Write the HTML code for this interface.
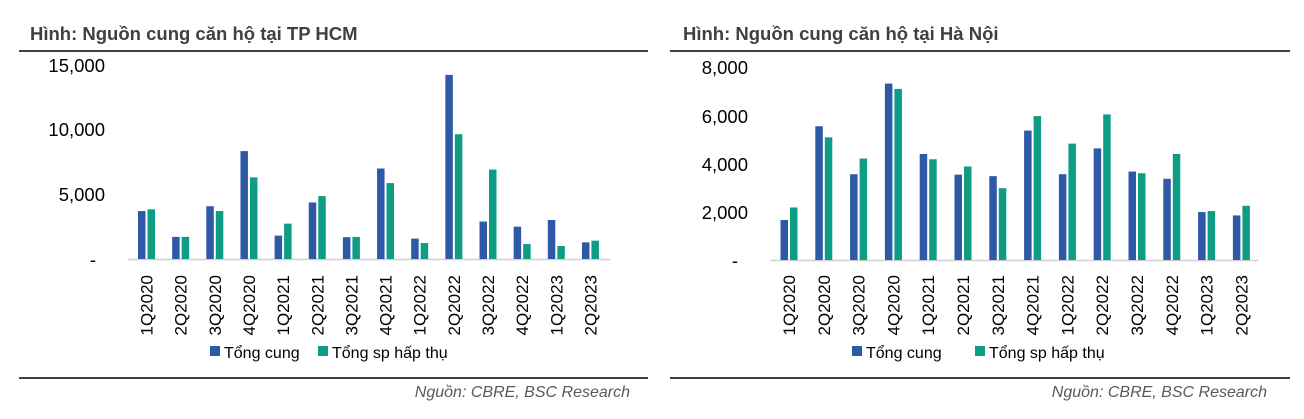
<!DOCTYPE html>
<html><head><meta charset="utf-8"><style>
html,body{margin:0;padding:0;background:#fff;}
svg{display:block;font-family:"Liberation Sans",sans-serif;}
</style></head><body>
<svg width="1304" height="419" viewBox="0 0 1304 419" xmlns="http://www.w3.org/2000/svg">
<g font-weight="bold" font-size="18.5" fill="#404040">
<text x="30" y="40">Hình: Nguồn cung căn hộ tại TP HCM</text>
<text x="683" y="40">Hình: Nguồn cung căn hộ tại Hà Nội</text>
</g>
<g stroke="#000" stroke-width="1.6">
<line x1="19" y1="51" x2="648" y2="51"/><line x1="670" y1="51" x2="1290" y2="51"/>
<line x1="19" y1="378" x2="648" y2="378"/><line x1="670" y1="378" x2="1290" y2="378"/>
</g>
<g font-size="18.5" fill="#000" text-anchor="end">
<text x="105" y="72">15,000</text><text x="105" y="136">10,000</text><text x="105" y="201">5,000</text><text x="96" y="266">-</text>
<text x="748" y="74">8,000</text><text x="748" y="123">6,000</text><text x="748" y="171">4,000</text><text x="748" y="219">2,000</text><text x="738" y="267">-</text>
</g>
<line x1="128" y1="259.5" x2="610" y2="259.5" stroke="#d0d0d0" stroke-width="1.5"/>
<line x1="770" y1="260.5" x2="1258" y2="260.5" stroke="#d0d0d0" stroke-width="1.5"/>
<g id="bars"></g>
<g font-size="17" fill="#000" id="xl"></g>
<g font-size="16" fill="#000">
<rect x="210" y="346" width="10" height="10" fill="#2e59a7"/><text x="224" y="358">Tổng cung</text>
<rect x="318" y="346" width="10" height="10" fill="#0f9c85"/><text x="332" y="358">Tổng sp hấp thụ</text>
<rect x="852" y="346" width="10" height="10" fill="#2e59a7"/><text x="866" y="358">Tổng cung</text>
<rect x="975" y="346" width="10" height="10" fill="#0f9c85"/><text x="989" y="358">Tổng sp hấp thụ</text>
</g>
<g font-size="16" font-style="italic" fill="#595959" text-anchor="end">
<text x="630" y="397">Nguồn: CBRE, BSC Research</text>
<text x="1267" y="397">Nguồn: CBRE, BSC Research</text>
</g>
</svg>
<script>
var ns="http://www.w3.org/2000/svg";
var cats=["1Q2020","2Q2020","3Q2020","4Q2020","1Q2021","2Q2021","3Q2021","4Q2021","1Q2022","2Q2022","3Q2022","4Q2022","1Q2023","2Q2023"];
var hcmB=[3.69,1.7,4.06,8.3,1.8,4.35,1.68,6.96,1.57,14.16,2.88,2.49,3.0,1.28];
var hcmG=[3.82,1.7,3.69,6.28,2.72,4.84,1.7,5.84,1.23,9.6,6.88,1.15,1.0,1.41];
var hnB=[1.66,5.55,3.56,7.32,4.4,3.54,3.48,5.37,3.56,4.63,3.67,3.37,1.99,1.85];
var hnG=[2.18,5.09,4.21,7.1,4.18,3.88,2.98,5.97,4.83,6.04,3.6,4.4,2.03,2.25];
var bars=document.getElementById("bars"),xl=document.getElementById("xl");
function r(x,y,w,h,c){var e=document.createElementNS(ns,"rect");e.setAttribute("x",x);e.setAttribute("y",y);e.setAttribute("width",w);e.setAttribute("height",h);e.setAttribute("fill",c);bars.appendChild(e);}
function chart(c0,sp,base,ppk,B,G){
for(var i=0;i<14;i++){var c=c0+sp*i;
r(c-8.5,base-B[i]*ppk,7.5,B[i]*ppk,"#2e59a7");
r(c+1,base-G[i]*ppk,7.5,G[i]*ppk,"#0f9c85");
var t=document.createElementNS(ns,"text");t.setAttribute("transform","translate("+(c+6)+",275) rotate(-90)");t.setAttribute("text-anchor","end");t.textContent=cats[i];xl.appendChild(t);}
}
chart(146.5,34.15,259,13,hcmB,hcmG);
chart(789,34.8,260,24.1,hnB,hnG);
</script>
</body></html>
